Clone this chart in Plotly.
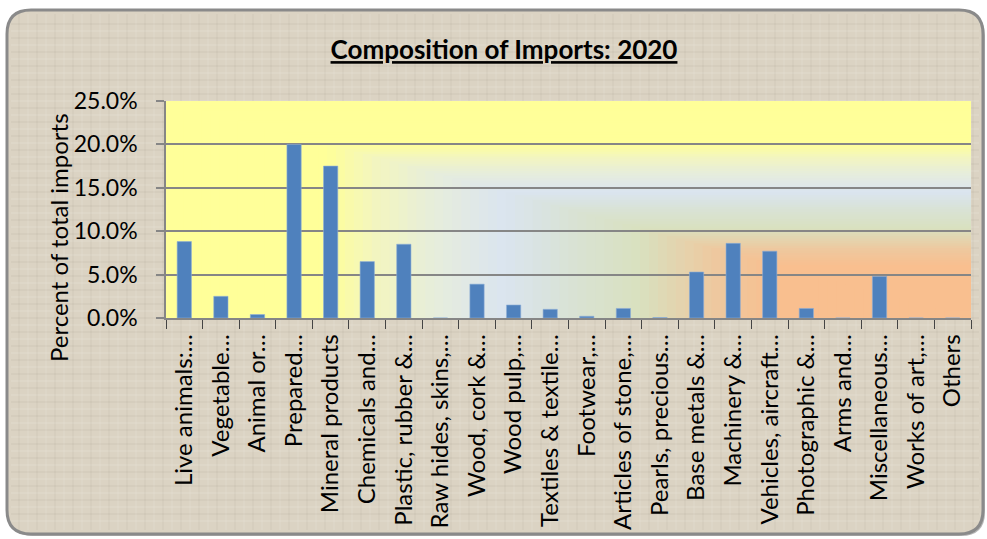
import plotly.graph_objects as go

categories = [
    "Live animals:…", "Vegetable…", "Animal or…", "Prepared…", "Mineral products",
    "Chemicals and…", "Plastic, rubber &…", "Raw hides, skins,…", "Wood, cork &…",
    "Wood pulp,…", "Textiles & textile…", "Footwear,…", "Articles of stone,…",
    "Pearls, precious…", "Base metals &…", "Machinery &…", "Vehicles, aircraft…",
    "Photographic &…", "Arms and…", "Miscellaneous…", "Works of art,…", "Others",
]
values = [8.8, 2.5, 0.4, 20.0, 17.5, 6.5, 8.5, 0.0, 3.9, 1.5, 1.0, 0.2, 1.1,
          0.05, 5.3, 8.6, 7.7, 1.1, 0.0, 4.8, 0.0, 0.0]
y_ticks = [0, 5, 10, 15, 20, 25]
y_tick_labels = ["0.0%", "5.0%", "10.0%", "15.0%", "20.0%", "25.0%"]

W, H = 987, 539
PL, PR, PT, PB = 166, 971, 101, 318
pw, ph = PR - PL, PB - PT


def fx(px):
    return (px - PL) / pw


def fy(py):
    return (PB - py) / ph


def hex2rgb(h):
    h = h.lstrip("#")
    return tuple(int(h[i:i + 2], 16) for i in (0, 2, 4))


stops = [(0.00, "#f9bf8f"), (0.24, "#f9bf8f"), (0.32, "#eec9a0"), (0.41, "#d9e1bf"),
         (0.50, "#d9e3d6"), (0.58, "#dbe5f0"), (0.66, "#e6edde"), (0.74, "#f3f6c0"),
         (0.80, "#ffff99"), (1.00, "#ffff99")]


def col(t):
    for (a, ca), (b, cb) in zip(stops[:-1], stops[1:]):
        if a <= t <= b:
            f = 0 if b == a else (t - a) / (b - a)
            r1, g1, b1 = hex2rgb(ca)
            r2, g2, b2 = hex2rgb(cb)
            return "rgb(%d,%d,%d)" % (r1 + (r2 - r1) * f, g1 + (g2 - g1) * f, b1 + (b2 - b1) * f)
    return stops[-1][1]


def P(px, py):
    return "%.5f,%.5f" % (fx(px), fy(py))


def rounded(x0, y0, x1, y1, r):
    return ("M " + P(x0 + r, y0) + " L " + P(x1 - r, y0) + " Q " + P(x1, y0) + " " + P(x1, y0 + r) +
            " L " + P(x1, y1 - r) + " Q " + P(x1, y1) + " " + P(x1 - r, y1) +
            " L " + P(x0 + r, y1) + " Q " + P(x0, y1) + " " + P(x0, y1 - r) +
            " L " + P(x0, y0 + r) + " Q " + P(x0, y0) + " " + P(x0 + r, y0) + " Z")


shapes = []
X0, X1, Y0, Y1, R = 7, 983, 10, 534, 24
shapes.append(dict(type="path", xref="paper", yref="paper", layer="below",
                   path=rounded(X0 + 2, Y0 + 2, X1 + 2, Y1 + 2, R),
                   fillcolor="rgba(90,90,90,0.45)", line=dict(width=0)))
shapes.append(dict(type="path", xref="paper", yref="paper", layer="below",
                   path=rounded(X0, Y0, X1, Y1, R),
                   fillcolor="#dbd3c3", line=dict(color="#8a8a8a", width=3)))

# subtle linen texture lines
for i, py in enumerate(range(Y0 + 14, Y1 - 6, 7)):
    shapes.append(dict(type="line", xref="paper", yref="paper", layer="below",
                       x0=fx(X0 + 4), x1=fx(X1 - 4), y0=fy(py), y1=fy(py),
                       line=dict(color="rgba(255,255,255,0.18)" if i % 2 else "rgba(120,105,85,0.10)", width=1)))
for i, px in enumerate(range(X0 + 12, X1 - 6, 9)):
    shapes.append(dict(type="line", xref="paper", yref="paper", layer="below",
                       x0=fx(px), x1=fx(px), y0=fy(Y0 + 4), y1=fy(Y1 - 4),
                       line=dict(color="rgba(255,255,255,0.14)" if i % 2 else "rgba(120,105,85,0.08)", width=1)))

# plot-area rectangular gradient from bottom-right corner
N = 90
for i in range(N, 0, -1):
    t = i / N
    shapes.append(dict(type="rect", xref="paper", yref="paper", layer="below",
                       x0=1 - t, x1=1, y0=0, y1=t, fillcolor=col(t - 0.5 / N),
                       line=dict(width=0)))

fig = go.Figure()
fig.add_trace(go.Bar(
    x=categories, y=values,
    marker=dict(color="#4f81bd", line=dict(color="#8eaed6", width=0.6)),
    hoverinfo="x+y",
))

FONT = "Lato"
fig.update_layout(
    width=W, height=H,
    margin=dict(l=PL, r=W - PR, t=PT, b=H - PB, pad=0, autoexpand=False),
    paper_bgcolor="white",
    plot_bgcolor="rgba(0,0,0,0)",
    bargap=0.61,
    showlegend=False,
    shapes=shapes,
    font=dict(family=FONT, color="black"),
    title=dict(text="<b><u>Composition of Imports: 2020</u></b>",
               x=504 / W, xanchor="center", y=1 - 50 / H, yanchor="middle",
               xref="container", yref="container",
               font=dict(family=FONT, size=26, color="black")),
    xaxis=dict(
        tickangle=-90, tickfont=dict(family=FONT, size=24, color="black"),
        showline=True, linecolor="#868686", linewidth=1.5,
        ticks="outside", tickson="boundaries", ticklen=9, tickcolor="#444444", tickwidth=1,
        ticklabelstandoff=5, showgrid=False, automargin=False,
    ),
    yaxis=dict(
        range=[0, 25], tickvals=y_ticks, ticktext=y_tick_labels,
        tickfont=dict(family=FONT, size=23, color="black"),
        showgrid=True, gridcolor="#868686", gridwidth=1.5,
        showline=True, linecolor="#868686", linewidth=1.5,
        ticks="outside", ticklen=8, tickcolor="#868686", tickwidth=1.5,
        ticklabelstandoff=14, zeroline=False, automargin=False,
    ),
    annotations=[dict(
        text="Percent of total imports", textangle=-90, showarrow=False,
        xref="paper", yref="paper", x=fx(58), y=fy(238),
        xanchor="center", yanchor="middle",
        font=dict(family=FONT, size=24, color="black"),
    )],
)

fig.write_html("out.html", config={"displayModeBar": False},
               post_script="document.body.style.margin='0px';")
